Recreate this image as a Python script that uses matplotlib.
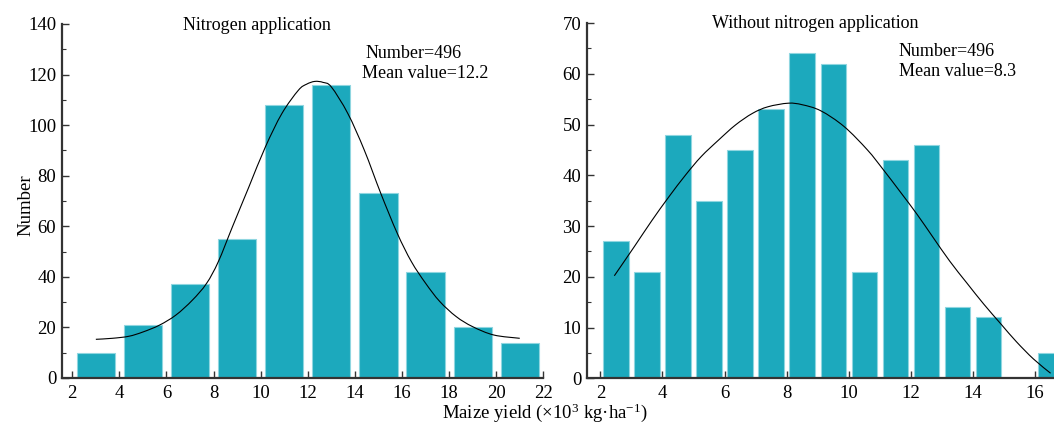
import matplotlib
matplotlib.use('Agg')
import matplotlib.pyplot as plt
from matplotlib.path import Path
from matplotlib.patches import PathPatch
from matplotlib.ticker import MultipleLocator

plt.rcParams['font.family'] = ['Liberation Serif', 'DejaVu Serif']
plt.rcParams['mathtext.fontset'] = 'custom'
plt.rcParams['mathtext.rm'] = 'Liberation Serif'
plt.rcParams['mathtext.it'] = 'Liberation Serif:italic'

# данные: внесение азота
n_centers = [3, 5, 7, 9, 11, 13, 15, 17, 19, 21]
n_counts = [10, 21, 37, 55, 108, 116, 73, 42, 20, 14]
n_curve_x = [3.0, 3.7, 4.4, 5.0, 5.7, 6.4, 7.1, 7.7, 8.2, 8.8, 9.5, 10.2, 10.9, 11.6, 11.95, 12.3,
             12.65, 13.0, 13.7, 14.4, 15.1, 15.8, 16.4, 17.0, 17.6, 18.3, 19.0, 19.9, 21.0]
n_curve_y = [15.3, 15.7, 16.5, 18.2, 20.9, 24.9, 30.8, 37.4, 46.0, 59.8, 75.6, 91.4, 104.6, 113.8,
             116.2, 117.3, 116.9, 115.1, 104.6, 90.1, 73.0, 57.2, 46.0, 37.5, 30.3, 24.3, 20.3, 17.0, 15.7]

# данные: без азота
w_centers = [2.5, 3.5, 4.5, 5.5, 6.5, 7.5, 8.5, 9.5, 10.5, 11.5, 12.5, 13.5, 14.5, 15.5, 16.5]
w_counts = [27, 21, 48, 35, 45, 53, 64, 62, 21, 43, 46, 14, 12, 0, 5]
w_curve_x = [2.45, 3.1, 3.65, 4.2, 4.75, 5.25, 5.8, 6.35, 6.9, 7.4, 8.05, 8.5, 9.1, 9.85,
             10.6, 11.1, 11.65, 12.2, 12.7, 13.25, 13.8, 14.35, 14.9, 15.4, 15.95, 16.5]
w_curve_y = [20.2, 26.0, 31.0, 35.7, 40.1, 43.7, 46.9, 49.9, 52.2, 53.5, 54.2, 53.9, 52.7, 49.6,
             45.0, 41.2, 36.8, 32.3, 27.9, 23.1, 18.8, 14.6, 10.7, 7.2, 3.8, 1.0]

BAR = '#1ca9bd'
EDGE = '#8fd6e0'
SPINE = '#333333'
W, H = 1054, 424

fig = plt.figure(figsize=(W / 100, H / 100), dpi=100)


def px(x, y):
    return x / W, 1 - y / H


def smooth_line(ax, xs, ys):
    # гладкая линия через точки (кривые Безье, без новых точек данных)
    verts = [(xs[0], ys[0])]
    codes = [Path.MOVETO]
    n = len(xs)
    for i in range(n - 1):
        x0, y0 = xs[max(i - 1, 0)], ys[max(i - 1, 0)]
        x1, y1 = xs[i], ys[i]
        x2, y2 = xs[i + 1], ys[i + 1]
        x3, y3 = xs[min(i + 2, n - 1)], ys[min(i + 2, n - 1)]
        verts += [(x1 + (x2 - x0) / 6, y1 + (y2 - y0) / 6),
                  (x2 - (x3 - x1) / 6, y2 - (y3 - y1) / 6),
                  (x2, y2)]
        codes += [Path.CURVE4] * 3
    ax.add_patch(PathPatch(Path(verts, codes), facecolor='none', edgecolor='black', linewidth=0.8))


def style(ax, xmaj, ymaj, ymin):
    for s in ['top', 'right']:
        ax.spines[s].set_visible(False)
    for s in ['left', 'bottom']:
        ax.spines[s].set_color(SPINE)
        ax.spines[s].set_linewidth(1.6)
    ax.xaxis.set_major_locator(MultipleLocator(xmaj))
    ax.yaxis.set_major_locator(MultipleLocator(ymaj))
    ax.yaxis.set_minor_locator(MultipleLocator(ymin))
    ax.tick_params(direction='in', length=5, width=1, color=SPINE, labelsize=13.5, pad=4)
    ax.tick_params(which='minor', direction='in', length=3, width=0.8, color=SPINE)
    ax.tick_params(axis='x', pad=5)


ax1 = fig.add_axes([61.7 / W, (H - 378) / H, (543.3 - 61.7) / W, 354 / H])
ax1.bar(n_centers, n_counts, width=1.62, color=BAR, edgecolor=EDGE, linewidth=0.8)
smooth_line(ax1, n_curve_x, n_curve_y)
ax1.set_xlim(1.55, 22)
ax1.set_ylim(0, 140)
style(ax1, 2, 20, 10)

ax2 = fig.add_axes([586.7 / W, (H - 378.3) / H, (W - 586.7) / W, 355.3 / H])
ax2.bar(w_centers, w_counts, width=0.82, color=BAR, edgecolor=EDGE, linewidth=0.8)
smooth_line(ax2, w_curve_x, w_curve_y)
ax2.set_xlim(1.56, 16.61)
ax2.set_ylim(0, 70)
ax2.set_xticks([2, 4, 6, 8, 10, 12, 14, 16])
style(ax2, 2, 10, 5)

# подписи
fig.text(*px(257, 25), 'Nitrogen application', fontsize=13, ha='center', va='center')
fig.text(*px(366, 53), 'Number=496', fontsize=13, ha='left', va='center')
fig.text(*px(362, 73), 'Mean value=12.2', fontsize=13, ha='left', va='center')
fig.text(*px(815, 23), 'Without nitrogen application', fontsize=13, ha='center', va='center')
fig.text(*px(899, 51), 'Number=496', fontsize=13, ha='left', va='center')
fig.text(*px(899, 71), 'Mean value=8.3', fontsize=13, ha='left', va='center')
fig.text(*px(26, 205), 'Number', fontsize=13.5, rotation=90, ha='center', va='center')
fig.text(*px(545, 413), r'Maize yield (×10$^3$ kg·ha$^{\mathregular{-1}}$)', fontsize=13.5,
         ha='center', va='center')

fig.savefig('out.png', dpi=100)
